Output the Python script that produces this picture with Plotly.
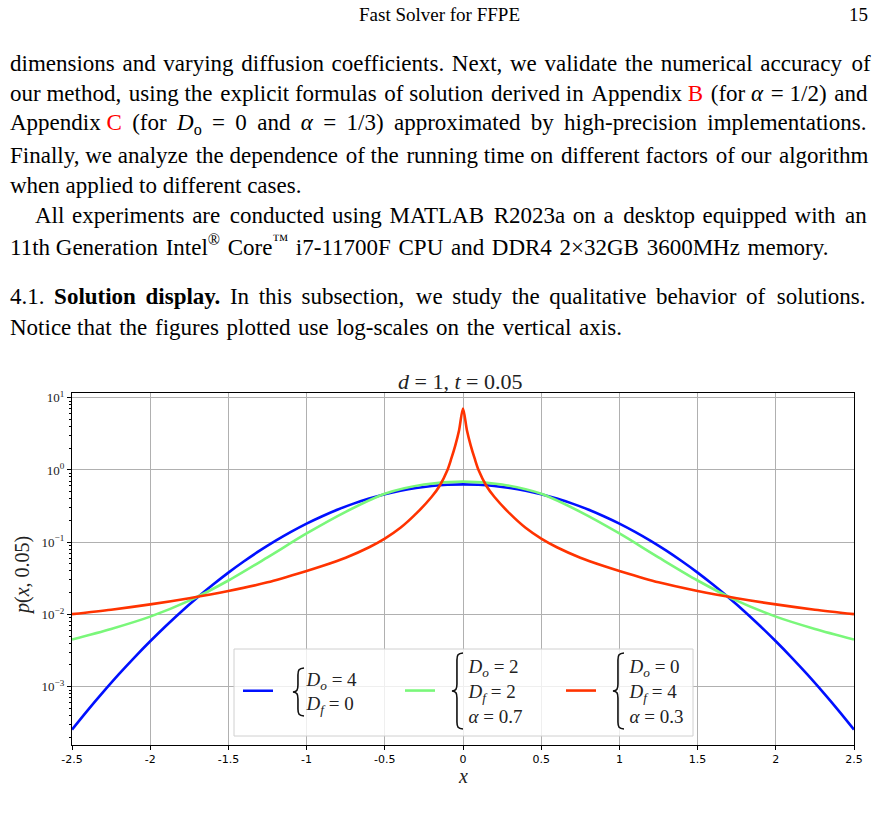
import plotly.graph_objects as go

# ---------------- data ----------------
blue_x = [-2.5, -2.4, -2.3, -2.2, -2.1, -2.0, -1.9, -1.8, -1.7, -1.6, -1.5, -1.4, -1.3, -1.2, -1.1,
          -1.0, -0.9, -0.8, -0.7, -0.6, -0.5, -0.4, -0.3, -0.2, -0.1, 0.0, 0.1, 0.2, 0.3, 0.4, 0.5,
          0.6, 0.7, 0.8, 0.9, 1.0, 1.1, 1.2, 1.3, 1.4, 1.5, 1.6, 1.7, 1.8, 1.9, 2.0, 2.1, 2.2, 2.3,
          2.4, 2.5]
blue_y = [0.000255, 0.000471, 0.000847, 0.00149, 0.00255, 0.00425, 0.00692, 0.0110, 0.0170, 0.0257,
          0.0379, 0.0544, 0.0763, 0.1043, 0.139, 0.181, 0.229, 0.2836, 0.342, 0.402, 0.462, 0.517,
          0.564, 0.600, 0.623, 0.631, 0.623, 0.600, 0.564, 0.517, 0.462, 0.402, 0.342, 0.2836, 0.229,
          0.181, 0.139, 0.1043, 0.0763, 0.0544, 0.0379, 0.0257, 0.0170, 0.0110, 0.00692, 0.00425,
          0.00255, 0.00149, 0.000847, 0.000471, 0.000255]

green_x = [-2.5, -2.25, -2.0, -1.75, -1.5, -1.25, -1.0, -0.75, -0.5, -0.25, 0.0,
           0.25, 0.5, 0.75, 1.0, 1.25, 1.5, 1.75, 2.0, 2.25, 2.5]
green_y = [0.0045, 0.0063, 0.00933, 0.0155, 0.0295, 0.0617, 0.132, 0.263, 0.468, 0.628, 0.690,
           0.628, 0.468, 0.263, 0.132, 0.0617, 0.0295, 0.0155, 0.00933, 0.0063, 0.0045]

red_x = [-2.5, -2.25, -2.0, -1.75, -1.5, -1.25, -1.0, -0.9, -0.75, -0.6, -0.5, -0.4, -0.3, -0.2,
         -0.15, -0.1, -0.075, -0.05, -0.025, 0.0, 0.025, 0.05, 0.075, 0.1, 0.15, 0.2, 0.3, 0.4,
         0.5, 0.6, 0.75, 0.9, 1.0, 1.25, 1.5, 1.75, 2.0, 2.25, 2.5]
red_y = [0.0101, 0.01164, 0.01377, 0.01675, 0.0211, 0.0278, 0.040, 0.0468, 0.061, 0.0851, 0.112,
         0.158, 0.248, 0.425, 0.60, 0.99, 1.43, 2.16, 3.55, 7.1, 3.55, 2.16, 1.43, 0.99, 0.60, 0.425,
         0.248, 0.158, 0.112, 0.0851, 0.061, 0.0468, 0.040, 0.0278, 0.0211, 0.01675, 0.01377,
         0.01164, 0.0101]

NB = "\u00a0" * 6
series_names = [NB + "<i>D<sub>o</sub></i> = 4<br>" + NB + "<i>D<sub>f</sub></i> = 0",
                NB + "<i>D<sub>o</sub></i> = 2<br>" + NB + "<i>D<sub>f</sub></i> = 2<br>" + NB + "<i>α</i> = 0.7",
                NB + "<i>D<sub>o</sub></i> = 0<br>" + NB + "<i>D<sub>f</sub></i> = 4<br>" + NB + "<i>α</i> = 0.3"]
series_colors = ["#0010ff", "#7af77a", "#ff3300"]

x_tickvals = [-2.5, -2, -1.5, -1, -0.5, 0, 0.5, 1, 1.5, 2, 2.5]
x_ticktext = ["-2.5", "-2", "-1.5", "-1", "-0.5", "0", "0.5", "1", "1.5", "2", "2.5"]
y_tickvals = [1e-3, 1e-2, 1e-1, 1, 10]
y_ticktext = ["10<sup>−3</sup>", "10<sup>−2</sup>", "10<sup>−1</sup>", "10<sup>0</sup>", "10<sup>1</sup>"]

HS = "\u200a"   # hair space used to widen justified lines
TS = "\u2009"   # thin space
# (text, filler character, number of fillers spread over the word gaps)
page_lines = [
    ("dimensions and varying diffusion coefficients. Next, we validate the numerical accuracy of", HS, 12),
    ("our method, using the explicit formulas of solution derived in Appendix <span style='color:#ff0000'>B</span> (for <i>α</i> = 1/2) and", HS, 8),
    ("Appendix <span style='color:#ff0000'>C</span> (for <i>D</i><sub>o</sub> = 0 and <i>α</i> = 1/3) approximated by high-precision implementations.", TS, 12),
    ("Finally, we analyze the dependence of the running time on different factors of our algorithm", HS, 6),
    ("when applied to different cases.", HS, 0),
    ("All experiments are conducted using MATLAB R2023a on a desktop equipped with an", HS, 16),
    ("11th Generation Intel<sup>®</sup> Core<sup>™</sup> i7-11700F CPU and DDR4 2×32GB 3600MHz memory.", HS, 9),
    ("4.1. <b>Solution display.</b> In this subsection, we study the qualitative behavior of solutions.", HS, 26),
    ("Notice that the figures plotted use log-scales on the vertical axis.", HS, 9),
]
page_line_y = [63, 93, 124, 155, 186, 216, 246, 296, 327]
page_line_x = [8, 8, 8, 8, 8, 33, 8, 8, 8]


def spread(txt, ch, n):
    # split on spaces that are outside html tags
    words, cur, intag = [], "", False
    for c in txt:
        if c == "<":
            intag = True
        elif c == ">":
            intag = False
        if c == " " and not intag:
            words.append(cur)
            cur = ""
        else:
            cur += c
    words.append(cur)
    gaps = len(words) - 1
    out = words[0]
    for i in range(gaps):
        k = ((i + 1) * n) // gaps - (i * n) // gaps
        out += " " + ch * k + words[i + 1]
    return out


# ---------------- geometry helpers (pixels -> paper) ----------------
W, H = 878, 821
L, R, T, B = 72, 24, 393, 76
PW, PH = W - L - R, H - T - B


def xp(px):
    return (px - L) / PW


def yp(py):
    return (H - B - py) / PH


SERIF = "Liberation Serif"
fig = go.Figure()
legend_ids = ["legend", "legend2", "legend3"]
for xs, ys, nm, col, lg in zip([blue_x, green_x, red_x], [blue_y, green_y, red_y], series_names,
                               series_colors, legend_ids):
    fig.add_trace(go.Scatter(x=xs, y=ys, name=nm, mode="lines", legend=lg,
                             line=dict(color=col, width=2.6, shape="spline", smoothing=0.8)))

leg_common = dict(orientation="v", yanchor="middle", xanchor="left", y=yp(691),
                  bgcolor="rgba(0,0,0,0)", borderwidth=0, valign="middle",
                  font=dict(family=SERIF, size=19, color="#222"))
fig.update_layout(
    width=W, height=H, margin=dict(l=L, r=R, t=T, b=B),
    paper_bgcolor="white", plot_bgcolor="white",
    font=dict(family=SERIF, color="black"),
    showlegend=True,
    legend=dict(x=xp(238), **leg_common),
    legend2=dict(x=xp(400), **leg_common),
    legend3=dict(x=xp(561), **leg_common),
)
fig.update_xaxes(range=[-2.5, 2.5], tickvals=x_tickvals, ticktext=x_ticktext,
                 ticks="outside", ticklen=4, tickcolor="black", tickwidth=1,
                 showline=True, linecolor="black", linewidth=1.2, mirror=True,
                 showgrid=True, gridcolor="#b0b0b0", gridwidth=1, zeroline=False,
                 tickfont=dict(family="DejaVu Sans", size=11, color="black"))
fig.update_yaxes(type="log", range=[-3.807, 1.065], tickvals=y_tickvals, ticktext=y_ticktext,
                 ticks="outside", ticklen=4, tickcolor="black", tickwidth=1,
                 showline=True, linecolor="black", linewidth=1.2, mirror=True,
                 showgrid=True, gridcolor="#b0b0b0", gridwidth=1, zeroline=False,
                 tickfont=dict(family=SERIF, size=13, color="#222"),
                 minor=dict(ticks="outside", ticklen=2, tickcolor="black", dtick="D1", showgrid=False))

# legend box and braces as shapes
fig.add_shape(type="rect", xref="paper", yref="paper", x0=xp(234), x1=xp(693), y0=yp(736), y1=yp(649),
              line=dict(color="#d0d0d0", width=1), fillcolor="rgba(255,255,255,0.8)", layer="above")


def brace(xl, yt, yb, w=11, q=7):
    xr = xl + w
    xs = xl + w * 0.45
    ym = (yt + yb) / 2
    pts = [("M", [(xr, yt)]),
           ("C", [(xs + 1, yt + 0.5), (xs, yt + 2), (xs, yt + q)]),
           ("L", [(xs, ym - q)]),
           ("C", [(xs, ym - 2), (xs - 1, ym - 0.5), (xl, ym)]),
           ("C", [(xs - 1, ym + 0.5), (xs, ym + 2), (xs, ym + q)]),
           ("L", [(xs, yb - q)]),
           ("C", [(xs, yb - 2), (xs + 1, yb - 0.5), (xr, yb)])]
    s = ""
    for cmd, pl in pts:
        s += cmd + " " + " ".join(f"{xp(a):.5f},{yp(b):.5f}" for a, b in pl) + " "
    return s.strip()


for (bx, bt, bb) in [(293, 668, 716), (452, 653, 729), (613, 653, 729)]:
    fig.add_shape(type="path", xref="paper", yref="paper", path=brace(bx, bt, bb),
                  line=dict(color="#111", width=1.6), layer="above")

# chart title and axis labels
ann = dict(xref="paper", yref="paper", showarrow=False, xanchor="center", yanchor="middle")
fig.add_annotation(x=xp(460), y=yp(381), text="<i>d</i> = 1, <i>t</i> = 0.05",
                   font=dict(family=SERIF, size=22, color="#222"), **ann)
fig.add_annotation(x=xp(22), y=yp(576), text="<i>p</i>(<i>x</i>, 0.05)", textangle=-90,
                   font=dict(family=SERIF, size=20, color="#222"), **ann)
fig.add_annotation(x=0.5, y=yp(776), text="<i>x</i>",
                   font=dict(family=SERIF, size=20, color="#222"), **ann)

# page header and body text
fig.add_annotation(x=xp(439), y=yp(14), text="Fast Solver for FFPE",
                   font=dict(family=SERIF, size=19), **ann)
fig.add_annotation(x=xp(870), y=yp(14), text="15", xref="paper", yref="paper", showarrow=False,
                   xanchor="right", yanchor="middle", font=dict(family=SERIF, size=19))
for (txt, ch, n), py, px in zip(page_lines, page_line_y, page_line_x):
    fig.add_annotation(x=xp(px), y=yp(py), text=spread(txt, ch, n), xref="paper", yref="paper",
                       showarrow=False, xanchor="left", yanchor="middle",
                       font=dict(family=SERIF, size=23))

fig.write_html("out.html")
